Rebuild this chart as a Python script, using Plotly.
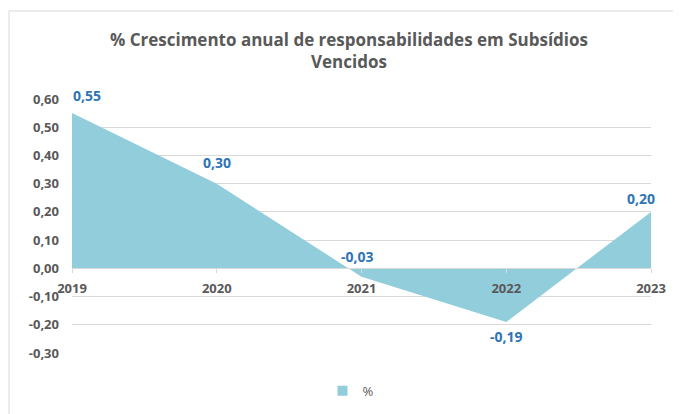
import plotly.graph_objects as go

years = [2019, 2020, 2021, 2022, 2023]
values = [0.55, 0.30, -0.03, -0.19, 0.20]
label_xshift = [15, 0, -4, 0, -10]
label_yshift = [18, 21, 20, -15, 13]
y_ticks = [-0.3, -0.2, -0.1, 0.0, 0.1, 0.2, 0.3, 0.4, 0.5, 0.6]

labels = [f"{v:.2f}".replace(".", ",") for v in values]
y_tick_text = [f"{v:.2f}".replace(".", ",") for v in y_ticks]

FONT = "Open Sans"
fig = go.Figure()
fig.add_trace(go.Scatter(
    x=years, y=values, mode="lines", name="%",
    fill="tozeroy", fillcolor="#92CDDC",
    line=dict(color="#92CDDC", width=0),
    showlegend=False,
))
fig.add_trace(go.Scatter(
    x=[None], y=[None], mode="markers", name="%",
    marker=dict(symbol="square", size=10, color="#92CDDC"),
    showlegend=True,
))

annotations = []
for x, v, t, xs, ys in zip(years, values, labels, label_xshift, label_yshift):
    annotations.append(dict(
        x=x, y=v, text=f"<b>{t}</b>", showarrow=False,
        xshift=xs, yshift=ys, xanchor="center", yanchor="middle",
        font=dict(family=FONT, size=14, color="#2E75B6"),
    ))

# page body has an 8px default margin, so the figure is sized/offset to compensate
fig.update_layout(
    width=673, height=406,
    margin=dict(l=64, r=30, t=91, b=61, autoexpand=False),
    paper_bgcolor="white", plot_bgcolor="white",
    title=dict(
        text="<b>% Crescimento anual de responsabilidades em Subsídios<br>Vencidos</b>",
        x=0.5067, xref="container", xanchor="center",
        y=0.907, yref="container", yanchor="top",
        font=dict(family=FONT, size=17, color="#595959"),
        automargin=False,
    ),
    xaxis=dict(
        range=[2019, 2023], tickmode="array", tickvals=years,
        ticktext=[str(y) for y in years],
        anchor="free", position=1/3,
        showline=True, linecolor="#D9D9D9", linewidth=1,
        ticks="outside", ticklen=4, tickcolor="#D9D9D9",
        ticklabelstandoff=4,
        showgrid=False, zeroline=False, automargin=False,
        tickfont=dict(family=FONT, size=13, color="#595959", weight="bold"),
    ),
    yaxis=dict(
        range=[-0.3, 0.6], tickmode="array", tickvals=y_ticks, ticktext=y_tick_text,
        showgrid=True, gridcolor="#D9D9D9", gridwidth=1,
        zeroline=False, showline=False, automargin=False,
        tickfont=dict(family=FONT, size=13, color="#595959", weight="bold"),
        ticklabelstandoff=12,
    ),
    annotations=annotations,
    showlegend=True,
    legend=dict(
        orientation="h", x=0.481, xanchor="center", y=-0.09, yanchor="top",
        font=dict(family=FONT, size=13, color="#595959"),
        itemwidth=30,
    ),
    shapes=[
        dict(type="line", xref="paper", yref="paper", x0=-0.1088, x1=1.06, y0=1.3465, y1=1.3465,
             line=dict(color="#D9D9D9", width=1)),
        dict(type="line", xref="paper", yref="paper", x0=-0.1088, x1=-0.1088, y0=1.3465, y1=-0.25,
             line=dict(color="#D9D9D9", width=1)),
    ],
)

fig.write_html("out.html")
